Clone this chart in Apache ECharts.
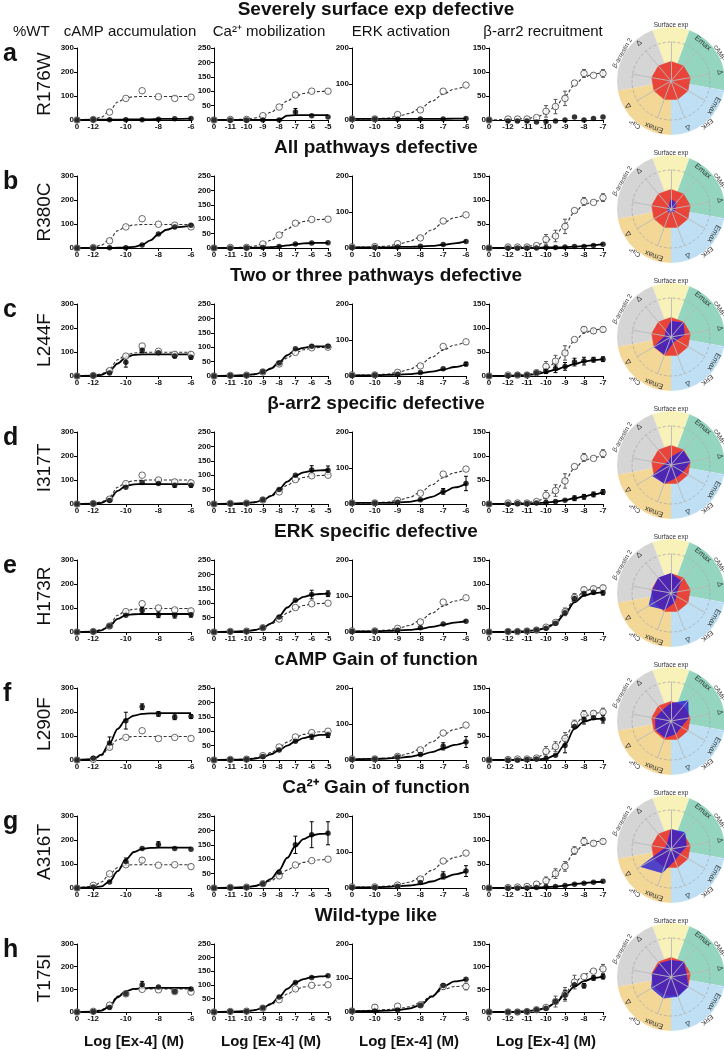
<!DOCTYPE html>
<html><head><meta charset="utf-8">
<script src="https://cdn.jsdelivr.net/npm/echarts@6/dist/echarts.min.js"></script>
<style>html,body{margin:0;padding:0;background:#fff}#c{width:724px;height:1050px}</style>
</head><body><div id="c"></div>
<script>
// ---------- labels ----------
const mutants = ['R176W','R380C','L244F','I317T','H173R','L290F','A316T','T175I'];
const rowLetters = ['a','b','c','d','e','f','g','h'];
const rowTitles = ['Severely surface exp defective','All pathways defective','Two or three pathways defective','β-arr2 specific defective','ERK specific defective','cAMP Gain of function','Ca²⁺ Gain of function','Wild-type like'];
const colHeaders = ['cAMP accumulation','Ca²⁺ mobilization','ERK activation','β-arr2 recruitment'];
const xAxisTitle = 'Log [Ex-4] (M)';

// ---------- tick labels ----------
const cAMP_tickVals = [-13,-12,-10,-8,-6];
const cAMP_tickLabels = ['0','-12','-10','-8','-6'];
const ca_tickVals = [-12,-11,-10,-9,-8,-7,-6,-5];
const ca_tickLabels = ['0','-11','-10','-9','-8','-7','-6','-5'];
const erk_tickVals = [-11,-10,-9,-8,-7,-6];
const erk_tickLabels = ['0','-10','-9','-8','-7','-6'];
const arr_tickVals = [-13,-12,-11,-10,-9,-8,-7];
const arr_tickLabels = ['0','-12','-11','-10','-9','-8','-7'];

// ---------- cAMP ----------
const cAMP_x = [-13,-12,-11,-10,-9,-8,-7,-6];
const cAMP_wt = [
 [0,2,33,90,122,97,90,95],[0,2,30,88,122,99,95,88],[0,2,22,83,125,103,90,90],[0,2,20,85,120,100,92,88],
 [0,2,25,85,118,100,92,88],[0,3,53,94,122,89,94,90],[0,11,59,97,116,95,97,89],[0,3,30,80,100,98,90,88]];
const cAMP_mut = [
 [0,2,1,1,1,3,5,6],[0,1,1,1,13,58,88,95],[0,2,12,57,107,97,83,78],[0,2,15,70,90,85,78,78],
 [0,2,25,70,90,72,70,72],[0,7,71,164,222,192,178,181],[0,4,25,110,165,181,165,161],[0,2,20,80,120,110,90,102]];
const cAMP_mutErr = [
 [0,0,0,0,0,0,0,0],[0,0,0,0,0,0,0,0],[0,0,0,20,10,0,8,8],[0,0,0,0,0,0,8,8],
 [0,0,0,0,12,12,12,10],[0,0,25,35,12,10,10,8],[0,0,0,15,0,12,0,0],[0,0,0,0,15,0,0,0]];
const cAMP_wtErr = [
 [0,0,0,0,0,0,0,0],[0,0,0,0,0,0,0,0],[0,0,0,0,0,0,0,0],[0,0,0,0,0,0,0,0],
 [0,0,0,0,0,0,0,0],[0,0,0,0,0,0,0,0],[0,0,0,0,10,0,0,0],[0,0,0,0,0,0,0,0]];
const cAMP_fitX = [-13,-12,-11.5,-11,-10.5,-10,-9.5,-9,-8.5,-8,-7.5,-7,-6];
const cAMP_wtFit = [
 [0,2,12,38,75,92,97,98,98,98,98,98,98],[0,2,12,36,72,90,96,98,98,98,98,98,98],
 [0,2,9,30,68,88,96,98,99,99,99,99,99],[0,2,9,30,70,90,97,99,100,100,100,100,100],
 [0,2,10,32,70,88,95,97,98,98,98,98,98],[0,3,18,55,85,95,98,98,98,98,98,98,98],
 [0,6,25,58,85,95,97,97,97,97,97,97,97],[0,2,10,33,70,92,100,102,102,102,102,102,102]];
const cAMP_mutFit = [
 [0,1,1,1,1,2,2,3,3,4,5,5,6],[0,0,0,0,1,2,5,13,32,57,76,86,93],
 [0,1,5,20,52,78,88,90,90,90,90,90,90],[0,1,5,20,55,76,82,83,83,83,83,83,83],
 [0,1,7,25,55,70,74,75,75,75,75,75,75],[0,4,22,70,130,168,185,192,194,195,195,195,195],
 [0,2,7,28,70,118,150,163,167,168,168,168,168],[0,1,6,25,65,92,102,105,106,106,106,106,106]];

// ---------- Ca2+ ----------
const ca_x = [-12,-11,-10,-9,-8,-7,-6,-5];
const ca_wt = [
 [0,2,2,15,45,87,100,100],[0,2,2,14,45,86,99,100],[0,2,3,14,42,82,98,100],[0,2,3,14,42,85,98,100],
 [0,2,3,15,45,85,98,100],[0,2,3,15,45,80,95,100],[0,2,3,15,42,80,95,100],[0,2,3,14,45,85,98,100]];
const ca_mut = [
 [0,0,0,0,0,28,15,10],[0,0,1,2,5,14,17,18],[0,2,3,15,45,95,103,103],[0,2,3,15,50,100,118,117],
 [0,2,3,15,52,110,130,133],[0,2,3,12,35,65,82,88],[0,2,3,15,55,150,185,190],[0,2,3,15,55,108,127,133]];
const ca_mutErr = [
 [0,0,0,0,0,12,0,0],[0,0,0,0,0,0,0,0],[0,0,0,0,0,0,0,0],[0,0,0,0,0,0,15,15],
 [0,0,0,0,0,0,15,10],[0,0,0,0,0,0,10,10],[0,0,0,0,0,30,45,40],[0,0,0,0,0,0,0,0]];
const ca_wtErr = [
 [0,0,0,0,0,0,0,0],[0,0,0,0,0,0,0,0],[0,0,0,0,0,0,0,0],[0,0,0,0,0,0,0,0],
 [0,0,0,0,0,0,0,0],[0,0,0,0,0,0,0,0],[0,0,0,0,0,0,0,0],[0,0,0,0,0,0,0,0]];
const ca_fitX = [-12,-11,-10,-9.5,-9,-8.5,-8,-7.5,-7,-6.5,-6,-5.5,-5];
const ca_wtFit = [
 [0,1,3,7,14,27,45,66,82,92,97,99,100],[0,1,3,7,14,27,45,66,82,92,97,99,100],
 [0,1,3,7,13,25,43,63,80,91,96,99,100],[0,1,3,7,13,26,44,65,82,92,97,99,100],
 [0,1,3,7,14,27,45,66,82,92,97,99,100],[0,1,3,7,14,26,43,62,78,89,95,98,100],
 [0,1,3,7,13,25,42,62,78,89,95,98,100],[0,1,3,7,14,27,45,66,82,92,97,99,100]];
const ca_mutFit = [
 [0,0,0,0,0,0,1,15,17,17,17,17,17],[0,0,0,1,2,3,5,9,13,16,17,18,18],
 [0,1,3,6,13,26,48,72,90,98,102,103,103],[0,1,3,6,13,28,52,78,98,110,115,117,118],
 [0,1,3,7,14,30,55,85,108,122,129,132,133],[0,1,2,5,10,20,34,50,65,76,83,87,88],
 [0,1,3,7,15,32,62,105,145,170,182,188,190],[0,1,3,7,15,30,55,85,108,121,128,131,133]];

// ---------- ERK ----------
const erk_x = [-11,-10,-9,-8,-7,-6];
const erk_wt = [
 [3,3,15,28,80,97],[3,4,12,28,75,92],[3,3,10,28,82,95],[3,3,10,30,83,97],
 [3,3,10,28,83,95],[3,3,10,28,75,97],[3,3,8,25,75,97],[3,14,17,21,75,75]];
const erk_mut = [
 [3,3,2,3,3,4],[2,2,3,5,10,18],[2,3,5,10,20,33],[3,3,5,12,35,57],
 [2,3,5,12,22,30],[2,3,8,15,38,50],[2,2,5,15,35,47],[3,3,6,20,78,96]];
const erk_mutErr = [
 [0,0,0,0,0,0],[0,0,0,0,0,0],[0,0,0,0,0,5],[0,0,0,0,8,20],
 [0,0,0,0,0,0],[0,0,0,0,10,15],[0,0,0,0,10,15],[0,0,0,0,0,0]];
const erk_wtErr = [
 [0,0,0,0,0,0],[0,0,0,0,0,0],[0,0,0,0,0,0],[0,0,0,0,0,0],
 [0,0,0,0,0,0],[0,0,0,0,0,0],[0,0,0,0,0,0],[0,8,0,0,0,10]];
const erk_fitX = [-11,-10,-9.5,-9,-8.5,-8,-7.5,-7,-6.5,-6];
const erk_wtFit = [
 [2,3,5,10,18,32,52,72,86,95],[2,3,5,10,18,31,50,70,84,93],[2,3,5,10,18,32,52,72,86,95],[2,3,5,10,18,32,53,73,87,96],
 [2,3,5,10,18,32,52,72,86,95],[2,3,5,10,18,31,50,70,85,95],[2,3,5,9,16,29,49,70,85,95],[3,5,7,10,15,27,48,66,75,78]];
const erk_mutFit = [
 [3,3,3,3,3,3,3,3,4,4],[2,2,2,3,3,4,6,9,13,19],[2,2,3,4,5,8,12,18,25,32],[3,3,3,4,6,11,20,33,46,56],
 [2,2,3,4,6,9,14,20,26,30],[2,3,4,6,9,14,22,32,42,50],[2,2,3,5,7,11,18,28,38,46],[2,3,4,6,10,20,45,75,90,96]];

// ---------- beta-arrestin 2 ----------
const arr_x = [-13,-12,-11.5,-11,-10.5,-10,-9.5,-9,-8.5,-8,-7.5,-7];
const arr_wt = [
 [0,2,2,2,5,18,28,45,77,97,93,97],[0,2,2,2,5,18,25,45,78,97,95,105],[0,2,2,2,7,20,31,48,76,97,94,97],[0,2,2,2,5,18,28,48,78,97,95,105],
 [0,1,1,2,4,10,20,42,72,88,90,92],[0,1,2,2,4,18,28,45,75,95,97,100],[0,1,2,3,8,15,30,45,78,97,93,97],[0,0,0,1,5,10,23,39,66,78,90,95]];
const arr_mut = [
 [0,-2,-2,-2,-4,-3,-2,0,6,0,3,6],[0,0,0,0,0,1,1,2,3,3,5,8],[0,1,2,2,7,10,15,20,29,31,34,35],[0,0,1,1,2,3,5,8,12,15,20,25],
 [0,1,1,2,4,8,18,40,70,80,83,82],[0,0,0,1,2,3,10,30,70,85,88,85],[0,0,0,0,1,2,3,5,8,10,12,14],[0,0,0,1,5,8,23,38,60,58,75,78]];
const arr_wtErr = [
 [0,0,0,0,0,12,15,15,0,8,0,8],[0,0,0,0,0,10,12,15,0,8,0,8],[0,0,0,0,0,10,12,15,0,5,5,5],[0,0,0,0,0,10,12,15,0,8,0,8],
 [0,0,0,0,0,0,0,8,8,5,5,5],[0,0,0,0,0,10,10,12,8,8,5,8],[0,0,0,0,0,8,10,10,8,8,5,5],[0,0,0,0,0,0,12,15,15,0,0,10]];
const arr_mutErr = [
 [0,0,0,0,0,0,0,0,0,0,0,0],[0,0,0,0,0,0,0,0,0,0,0,0],[0,0,0,0,0,5,8,8,8,8,5,5],[0,0,0,0,0,0,0,0,5,5,5,5],
 [0,0,0,0,0,0,0,0,5,5,5,5],[0,0,0,0,0,0,0,15,0,10,0,8],[0,0,0,0,0,0,0,0,0,0,0,0],[0,0,0,0,0,0,0,10,0,5,5,5]];
const arr_fitX = arr_x;
const arr_wtFit = [
 [0,1,2,3,6,14,28,50,73,89,96,99],[0,1,2,3,6,13,27,50,74,90,97,100],[0,1,2,3,6,14,28,50,73,89,96,99],[0,1,2,3,6,13,27,50,74,90,97,100],
 [0,0,1,2,4,10,22,44,68,84,91,94],[0,1,2,3,6,13,27,50,74,90,97,100],[0,1,2,3,6,13,27,50,74,90,96,99],[0,0,1,2,4,10,22,42,65,82,92,96]];
const arr_mutFit = [
 null,[0,0,0,0,0,1,1,2,3,4,6,8],[0,0,1,2,4,8,13,19,25,30,33,35],[0,0,0,1,2,3,5,8,12,16,20,24],
 [0,0,1,2,4,8,18,38,62,76,81,83],[0,0,0,0,1,3,10,32,65,80,85,86],[0,0,0,0,1,2,3,5,8,10,12,13],[0,0,1,2,4,9,20,38,56,68,75,78]];

// ---------- radar (clockwise from top) ----------
const radarAxes = ['Surface exp','cAMP Emax','cAMP Δ','ERK Emax','ERK Δ','Ca Emax','Ca Δ','β-arr Emax','β-arr Δ'];
const radarInner = ['','Emax','Δ','Emax','Δ','Emax','Δ','Emax','Δ'];
const radarSectors = ['Surface exp','cAMP','ERK','Ca²⁺','β-arrestin 2'];
const radarSectorSpan = [40,80,80,80,80];
const radarWT = [1,1,1,1,1,1,1,1,1];
const radarMut = [
 [0.05,0.05,0.05,0.05,0.05,0.05,0.05,0.05,0.05],
 [0.5,0.4,0.2,0.2,0.15,0.2,0.2,0.15,0.15],
 [0.8,0.95,0.7,0.3,0.3,0.95,1.0,0.3,0.4],
 [0.4,0.95,1.0,0.7,0.7,1.0,1.1,0.3,0.2],
 [1.0,0.8,0.3,0.3,0.5,0.9,1.3,0.95,1.0],
 [0.9,1.35,0.9,0.6,0.7,0.9,0.9,0.8,0.7],
 [1.0,1.1,0.8,0.5,0.6,1.3,1.8,0.3,0.3],
 [0.85,1.0,0.8,1.0,1.05,1.15,1.15,0.95,0.9]];

// ---------- layout / style ----------
const FONT = '"Liberation Sans", Arial, Helvetica, sans-serif';
const panelLeft = [77,214,352,489], panelW = 114, panelH = 72, top0 = 48, rowStep = 128;
const radarCx = 671, radarCy0 = 81, radarR = 54, radarInnerR = 39;
const sectorColors = ['#f8f2b9','#93d5bf','#bfe0f4','#f3d797','#d5d5d5'];

const assays = [
 {x:cAMP_x, fitX:cAMP_fitX, wt:cAMP_wt, mut:cAMP_mut, wtFit:cAMP_wtFit, mutFit:cAMP_mutFit, wtErr:cAMP_wtErr, mutErr:cAMP_mutErr, tv:cAMP_tickVals, tl:cAMP_tickLabels, ymax:300, yint:100},
 {x:ca_x, fitX:ca_fitX, wt:ca_wt, mut:ca_mut, wtFit:ca_wtFit, mutFit:ca_mutFit, wtErr:ca_wtErr, mutErr:ca_mutErr, tv:ca_tickVals, tl:ca_tickLabels, ymax:250, yint:50},
 {x:erk_x, fitX:erk_fitX, wt:erk_wt, mut:erk_mut, wtFit:erk_wtFit, mutFit:erk_mutFit, wtErr:erk_wtErr, mutErr:erk_mutErr, tv:erk_tickVals, tl:erk_tickLabels, ymax:200, yint:100},
 {x:arr_x, fitX:arr_fitX, wt:arr_wt, mut:arr_mut, wtFit:arr_wtFit, mutFit:arr_mutFit, wtErr:arr_wtErr, mutErr:arr_mutErr, tv:arr_tickVals, tl:arr_tickLabels, ymax:150, yint:50}
];

const grids = [], xAxes = [], yAxes = [], series = [], radars = [], graphics = [];

function errSeries(idx, pts, color) {
  return {type:'custom', xAxisIndex:idx, yAxisIndex:idx, z:3, silent:true, clip:false,
    encode:{x:0,y:1}, data:pts,
    renderItem:function(p, api){
      const x = api.value(0), y = api.value(1), e = api.value(2);
      const t = api.coord([x, y+e]), b = api.coord([x, y-e]);
      const st = {stroke:color, lineWidth:1};
      return {type:'group', children:[
        {type:'line', shape:{x1:t[0],y1:t[1],x2:b[0],y2:b[1]}, style:st},
        {type:'line', shape:{x1:t[0]-2,y1:t[1],x2:t[0]+2,y2:t[1]}, style:st},
        {type:'line', shape:{x1:b[0]-2,y1:b[1],x2:b[0]+2,y2:b[1]}, style:st}
      ]};
    }};
}

for (let r = 0; r < 8; r++) {
  const top = top0 + r*rowStep;
  for (let c = 0; c < 4; c++) {
    const A = assays[c], idx = r*4 + c;
    grids.push({left:panelLeft[c], top:top, width:panelW, height:panelH});
    xAxes.push({type:'value', gridIndex:idx, min:A.tv[0], max:A.tv[A.tv.length-1],
      axisLine:{lineStyle:{color:'#000', width:1}},
      axisTick:{customValues:A.tv, length:3, lineStyle:{color:'#000'}},
      axisLabel:{customValues:A.tv, formatter:(v)=>{const k=A.tv.indexOf(v); return k<0?'':A.tl[k];},
        fontSize:8, fontWeight:'bold', color:'#111', margin:3, fontFamily:FONT},
      splitLine:{show:false},
      name: r===7 ? xAxisTitle : '', nameLocation:'middle', nameGap:22,
      nameTextStyle:{fontSize:15, fontWeight:'bold', color:'#111', fontFamily:FONT}});
    yAxes.push({type:'value', gridIndex:idx, min:0, max:A.ymax, interval:A.yint,
      axisLine:{show:true, lineStyle:{color:'#000', width:1}},
      axisTick:{show:true, length:3, lineStyle:{color:'#000'}},
      axisLabel:{fontSize:8, fontWeight:'bold', color:'#111', margin:3, fontFamily:FONT},
      splitLine:{show:false},
      name: c===0 ? mutants[r] : '', nameLocation:'middle', nameRotate:90, nameGap:23,
      nameTextStyle:{fontSize:19, color:'#111', fontFamily:FONT}});
    series.push({type:'line', xAxisIndex:idx, yAxisIndex:idx, smooth:0.35, smoothMonotone:'x', symbol:'none', z:2, silent:true,
      lineStyle:{color:'#333', width:1.1, type:[3,2]}, data:A.fitX.map((x,i)=>[x, A.wtFit[r][i]])});
    if (A.mutFit[r]) series.push({type:'line', xAxisIndex:idx, yAxisIndex:idx, smooth:0.35, smoothMonotone:'x', symbol:'none', z:2, silent:true,
      lineStyle:{color:'#000', width:1.8}, data:A.fitX.map((x,i)=>[x, A.mutFit[r][i]])});
    const we = A.x.map((x,i)=>[x, A.wt[r][i], A.wtErr[r][i]]).filter(d=>d[2]>0);
    const me = A.x.map((x,i)=>[x, A.mut[r][i], A.mutErr[r][i]]).filter(d=>d[2]>0);
    if (we.length) series.push(errSeries(idx, we, '#555'));
    if (me.length) series.push(errSeries(idx, me, '#000'));
    series.push({type:'scatter', xAxisIndex:idx, yAxisIndex:idx, symbol:'circle', symbolSize:6.5, z:4, clip:false, silent:true,
      itemStyle:{color:'#fff', borderColor:'#444', borderWidth:1}, data:A.x.map((x,i)=>[x, A.wt[r][i]])});
    series.push({type:'scatter', xAxisIndex:idx, yAxisIndex:idx, symbol:'circle', symbolSize:5.5, z:5, clip:false, silent:true,
      itemStyle:{color:'#000'}, data:A.x.map((x,i)=>[x, A.mut[r][i]])});
  }
  // ----- radar -----
  const cy = radarCy0 + r*rowStep;
  const ccw = [0,8,7,6,5,4,3,2,1];
  const indicators = ccw.map(k=>({name:radarAxes[k], max:2, min:0}));
  radars.push({center:[radarCx, cy], radius:radarInnerR, shape:'circle', splitNumber:1, startAngle:90, indicator:indicators,
    axisName:{show:false}, axisLine:{show:false}, splitLine:{show:false}, splitArea:{show:false}, axisTick:{show:false}, z:2});
  series.push({type:'pie', center:[radarCx, cy], radius:[0, radarR], startAngle:110, silent:true, z:1, label:{show:false}, labelLine:{show:false},
    data:radarSectorSpan.map((v,i)=>({value:v, name:radarSectors[i], itemStyle:{color:sectorColors[i]}}))});
  series.push({type:'radar', radarIndex:r, z:3, silent:true, symbol:'none', data:[
    {value:ccw.map(k=>radarWT[k]), lineStyle:{color:'#f04a3a', width:0.8}, areaStyle:{color:'#e8443a', opacity:1}},
    {value:ccw.map(k=>radarMut[r][k]), lineStyle:{color:'rgba(50,40,235,0.9)', width:0.8}, areaStyle:{color:'rgba(40,30,210,0.8)', opacity:1}}
  ]});
  series.push({type:'pie', center:[radarCx, cy], radius:[radarInnerR, radarR], startAngle:110, silent:true, z:6, labelLine:{show:false},
    itemStyle:{color:'rgba(0,0,0,0)'},
    label:{show:true, position:'inside', fontSize:7.5, color:'#333', fontFamily:FONT},
    data:radarInner.map((t,i)=>({value:40, name:t, label:{rotate:-i*40, formatter:t}}))});
  let acc = 0;
  const mids = radarSectorSpan.map(v=>{const m = acc + v/2 - 20; acc += v; return m;});
  series.push({type:'pie', center:[radarCx, cy], radius:[radarR-8, radarR+6], startAngle:110, silent:true, z:6, labelLine:{show:false},
    itemStyle:{color:'rgba(0,0,0,0)'},
    label:{show:true, position:'inside', fontSize:6.5, color:'#333', fontFamily:FONT},
    data:radarSectorSpan.map((v,i)=>({value:v, name:radarSectors[i], label:{rotate:-mids[i], formatter:radarSectors[i]}}))});
}
for (let r = 0; r < 8; r++) {
  const cy = radarCy0 + r*rowStep;
  const ccw = [0,8,7,6,5,4,3,2,1];
  radars.push({center:[radarCx, cy], radius:radarInnerR, shape:'circle', splitNumber:1, startAngle:90,
    indicator:ccw.map(k=>({name:radarAxes[k], max:2, min:0})),
    axisName:{show:false}, axisLine:{lineStyle:{color:'rgba(185,185,185,0.9)', width:1}},
    splitLine:{lineStyle:{color:'#a8a8a8', type:[3,2], width:0.8}}, splitArea:{show:false}, z:8});
}

// ---------- text ----------
graphics.push({type:'text', x:13, y:32, style:{text:'%WT', fontSize:15, fill:'#111', font:'15px '+FONT, align:'left', verticalAlign:'middle'}});
const headerCx = [130, 269, 401, 543];
colHeaders.forEach((t,i)=>graphics.push({type:'text', x:headerCx[i], y:32, style:{text:t, font:'15px '+FONT, fill:'#111', align:'center', verticalAlign:'middle'}}));
rowTitles.forEach((t,r)=>{
  const y = r===0 ? 10 : top0 + r*rowStep - 28;
  graphics.push({type:'text', x:376, y:y, style:{text:t, font:'bold 19px '+FONT, fill:'#111', align:'center', verticalAlign:'middle'}});
});
rowLetters.forEach((t,r)=>{
  graphics.push({type:'text', x:3, y:top0 + r*rowStep + 6, style:{text:t, font:'bold 25px '+FONT, fill:'#111', align:'left', verticalAlign:'middle'}});
});

const chart = echarts.init(document.getElementById('c'), null, {renderer:'canvas'});
chart.setOption({animation:false, backgroundColor:'#fff', textStyle:{fontFamily:FONT},
  grid:grids, xAxis:xAxes, yAxis:yAxes, radar:radars, series:series, graphic:graphics});
</script>
</body></html>
